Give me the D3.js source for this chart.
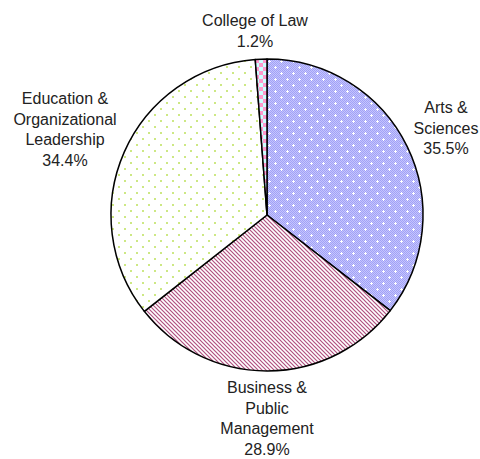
<!DOCTYPE html>
<html>
<head>
<meta charset="utf-8">
<script src="https://cdn.jsdelivr.net/npm/d3@7"></script>
<style>
  body { margin: 0; background: #fff; }
  text { font-family: "Liberation Sans", Arial, sans-serif; font-size: 16px; fill: #222; }
</style>
</head>
<body>
<div class="svg"></div>
<script>
var colleges = ["Arts & Sciences", "Business & Public Management", "Education & Organizational Leadership", "College of Law"];
var shares = [35.5, 28.9, 34.4, 1.2];
var labelLines = [
    ["Arts &", "Sciences", "35.5%"],
    ["Business &", "Public", "Management", "28.9%"],
    ["Education &", "Organizational", "Leadership", "34.4%"],
    ["College of Law", "1.2%"]
];

var width = 480, height = 459;
var cx = 267, cy = 215, radius = 156;

var svg = d3.select("div.svg")
    .append("svg")
    .attr("width", width)
    .attr("height", height);

var defs = svg.append("defs");

// Arts: lavender fine checker with white crosses
var pa = defs.append("pattern").attr("id", "p0").attr("patternUnits", "userSpaceOnUse")
    .attr("width", 12).attr("height", 12);
pa.append("rect").attr("width", 12).attr("height", 12).attr("fill", "#c4c4ff");
for (var i = 0; i < 12; i++) {
    for (var j = 0; j < 12; j++) {
        if ((i + j) % 2 === 0) pa.append("rect").attr("x", i).attr("y", j).attr("width", 1).attr("height", 1).attr("fill", "#a2a2f5");
    }
}
[[2, 2], [8, 8]].forEach(function (c) {
    pa.append("path").attr("d", "M" + (c[0] - 1) + "," + (c[1] + 0.5) + "h3M" + (c[0] + 0.5) + "," + (c[1] - 1) + "v3")
        .attr("stroke", "#fff").attr("stroke-width", 1);
});

// Business: maroon diagonal stripes
var pb = defs.append("pattern").attr("id", "p1").attr("patternUnits", "userSpaceOnUse")
    .attr("width", 4).attr("height", 4);
pb.append("rect").attr("width", 4).attr("height", 4).attr("fill", "#fff");
pb.append("path").attr("d", "M-1,-1L5,5M-1,3L1,5M3,-1L5,1")
    .attr("stroke", "#b0507f").attr("stroke-width", 1.2);

// Education: sparse yellow-green dots
var pc = defs.append("pattern").attr("id", "p2").attr("patternUnits", "userSpaceOnUse")
    .attr("width", 12).attr("height", 12);
pc.append("rect").attr("width", 12).attr("height", 12).attr("fill", "#fff");
pc.append("rect").attr("x", 1).attr("y", 1).attr("width", 2).attr("height", 2).attr("fill", "#cde884");
pc.append("rect").attr("x", 7).attr("y", 7).attr("width", 2).attr("height", 2).attr("fill", "#cde884");

// Law: pink/cyan checker
var pd = defs.append("pattern").attr("id", "p3").attr("patternUnits", "userSpaceOnUse")
    .attr("width", 8).attr("height", 8);
pd.append("rect").attr("width", 8).attr("height", 8).attr("fill", "#ccffff");
pd.append("rect").attr("width", 4).attr("height", 4).attr("fill", "#ff99cc");
pd.append("rect").attr("x", 4).attr("y", 4).attr("width", 4).attr("height", 4).attr("fill", "#ff99cc");

var pie = d3.pie().sort(null).value(function (d) { return d; });
var arc = d3.arc().innerRadius(0).outerRadius(radius);

var g = svg.append("g").attr("transform", "translate(" + cx + "," + cy + ")");
g.selectAll("path.slice")
    .data(pie(shares))
    .enter()
    .append("path")
    .attr("class", "slice")
    .attr("d", arc)
    .attr("fill", function (d, i) { return "url(#p" + i + ")"; })
    .attr("stroke", "#000")
    .attr("stroke-width", 1.5)
    .attr("stroke-linejoin", "round");

// label anchors (centre x, first baseline)
var labelPos = [[446, 113], [267, 393], [65, 104], [255, 26]];
var lineH = 20.7;

labelLines.forEach(function (lines, i) {
    var t = svg.append("text")
        .attr("text-anchor", "middle")
        .attr("x", labelPos[i][0])
        .attr("y", labelPos[i][1]);
    lines.forEach(function (s, k) {
        t.append("tspan").attr("x", labelPos[i][0]).attr("dy", k === 0 ? 0 : lineH).text(s);
    });
});
</script>
</body>
</html>
